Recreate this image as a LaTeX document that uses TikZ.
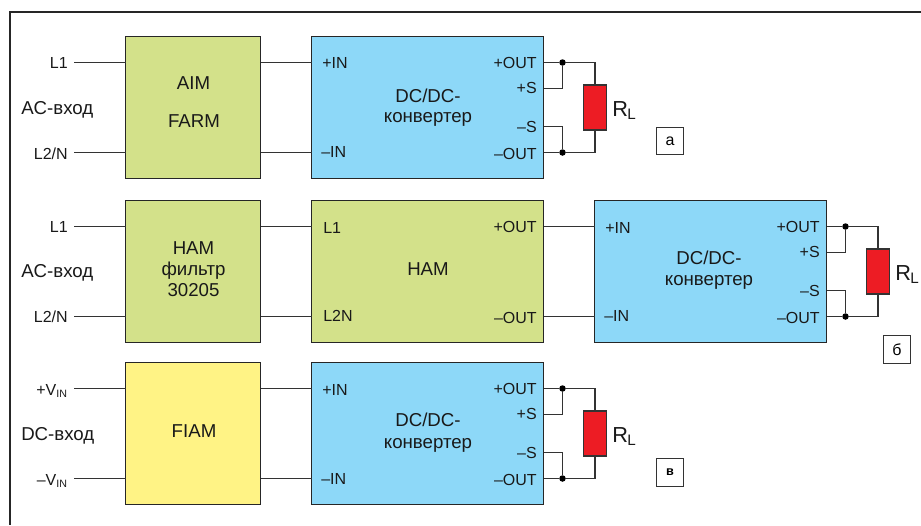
\documentclass[tikz,border=0pt]{standalone}
\usepackage{fontspec}
\setmainfont{Liberation Sans}
\definecolor{wirec}{HTML}{333333}
\definecolor{greenb}{HTML}{D3E18A}
\definecolor{blueb}{HTML}{8DD8F8}
\definecolor{yellowb}{HTML}{FFF385}
\definecolor{redb}{HTML}{ED1C24}
\tikzset{
  blockbox/.style={draw=black!85,line width=1.15pt,inner sep=0pt,outer sep=0pt,minimum height=142*0.75pt},
  modbox/.style={blockbox,minimum width=135*0.75pt},
  convbox/.style={blockbox,minimum width=232*0.75pt,fill=blueb},
  wire/.style={draw=wirec,line width=1.1pt},
  bigtext/.style={font=\fontsize{14}{15}\selectfont,inner sep=0pt,text=black!90,anchor=base,yshift=-0.6pt},
  sidetext/.style={font=\fontsize{14}{15}\selectfont,inner sep=0pt,text=black!90,yshift=-2.2pt,anchor=mid west},
  smalltext/.style={font=\fontsize{12}{13}\selectfont,inner sep=0pt,text=black!90,yshift=-1.9pt},
  rload/.style={draw=wirec,line width=1.1pt,fill=redb,inner sep=0pt,outer sep=0pt,minimum width=23*0.75pt,minimum height=45*0.75pt},
  dotj/.style={circle,fill=black,inner sep=0pt,minimum size=6.5*0.75pt},
  tagbox/.style={draw=wirec,line width=1pt,inner sep=0pt,minimum width=27.5*0.75pt,minimum height=27.5*0.75pt,font=\fontsize{12}{12}\selectfont}
}
% #1 prefix, #2 converter node, #3 right edge of converter, #4 +OUT y
\newcommand{\loadblock}[4]{%
  \pgfmathsetmacro{\xe}{#3}
  \pgfmathsetmacro{\ya}{#4}
  \pgfmathsetmacro{\yb}{#4+26}
  \pgfmathsetmacro{\yc}{#4+64}
  \pgfmathsetmacro{\yd}{#4+90}
  \pgfmathsetmacro{\xj}{#3+19}
  \pgfmathsetmacro{\xr}{#3+51.5}
  \pgfmathsetmacro{\xt}{#3-6.5}
  \node[smalltext,anchor=mid east] (#1po) at (\xt,\ya) {+OUT};
  \node[smalltext,anchor=mid east] (#1ps) at (\xt,\ya+25) {+S};
  \node[smalltext,anchor=mid east] (#1ms) at (\xt,\yc) {–S};
  \node[smalltext,anchor=mid east] (#1mo) at (\xt,\yd+1) {–OUT};
  \node[rload] (#1r) at (\xr,\ya+45) {};
  \node[font=\fontsize{16.3}{17}\selectfont,inner sep=0pt,anchor=west,text=black!90] (#1rl) at (\xr+17,\ya+48) {R\textsubscript{\kern-0.5pt L}};
  \node[dotj] (#1j1) at (\xj,\ya) {};
  \node[dotj] (#1j2) at (\xj,\yd) {};
  \coordinate (#1a) at (#2.east|-#1j1);
  \coordinate (#1b) at (\xe,\yb);
  \coordinate (#1c) at (\xe,\yc);
  \coordinate (#1d) at (#2.east|-#1j2);
  \draw[wire] (#1a) -- (#1j1) -- (#1r.north|-#1j1) -- (#1r.north);
  \draw[wire] (#1b) -| (#1j1);
  \draw[wire] (#1c) -| (#1j2);
  \draw[wire] (#1d) -- (#1j2) -- (#1r.south|-#1j2) -- (#1r.south);
}
\begin{document}
\begin{tikzpicture}[x=0.75pt,y=-0.75pt]
\useasboundingbox (0,0) rectangle (921,525);
\fill[white] (0,0) rectangle (921,525);
\coordinate (ftr) at (921,12);
\coordinate (ftl) at (10,12);
\coordinate (fbl) at (10,525);
\draw[draw=black!85,line width=0.9pt] (ftr) -- (ftl) -- (fbl);

% --- row a
\node[modbox,fill=greenb] (aim) at (193,107.5) {};
\node[convbox] (conva) at (427.5,107.5) {};
\node[bigtext] (aimt) at (193.5,88.5) {AIM};
\node[bigtext] (farmt) at (194,127) {FARM};
\node[bigtext] (dca) at (428,101.5) {DC/DC-};
\node[bigtext] (kona) at (428,122) {конвертер};
\node[sidetext] (aca) at (21,108) {AC-вход};
\node[smalltext,anchor=mid east] (l1a) at (68,62) {L1};
\node[smalltext,anchor=mid east] (l2a) at (68,153) {L2/N};
\coordinate (wl1a) at (74,62.5);
\coordinate (wl2a) at (74,152.5);
\node[smalltext,anchor=mid west] (ipa) at (322,62.5) {+IN};
\node[smalltext,anchor=mid west] (ima) at (321,151.5) {–IN};
\draw[wire] (wl1a) -- (aim.west|-wl1a);
\draw[wire] (wl2a) -- (aim.west|-wl2a);
\draw[wire] (aim.east|-wl1a) -- (conva.west|-wl1a);
\draw[wire] (aim.east|-wl2a) -- (conva.west|-wl2a);
\loadblock{a}{conva}{543.5}{62.5}
\node[tagbox] (taga) at (670,141) {а};

% --- row b
\node[modbox,fill=greenb] (hamf) at (193,271.5) {};
\node[modbox,fill=greenb,minimum width=232*0.75pt] (ham) at (427.5,271.5) {};
\node[convbox] (convb) at (710.5,271.5) {};
\node[bigtext] (hamt) at (193.5,253.5) {HAM};
\node[bigtext] (filt) at (193.5,274.5) {фильтр};
\node[bigtext] (numt) at (193.5,295.5) {30205};
\node[bigtext] (hamc) at (428,274.5) {HAM};
\node[bigtext] (dcb) at (709,263.5) {DC/DC-};
\node[bigtext] (konb) at (709,285) {конвертер};
\node[sidetext] (acb) at (21,271.5) {AC-вход};
\node[smalltext,anchor=mid east] (l1b) at (68,226) {L1};
\node[smalltext,anchor=mid east] (l2b) at (68,316) {L2/N};
\coordinate (wl1b) at (74,226.5);
\coordinate (wl2b) at (74,316.5);
\node[smalltext,anchor=mid west] (l1h) at (323,227) {L1};
\node[smalltext,anchor=mid west] (l2h) at (323,315) {L2N};
\node[smalltext,anchor=mid east] (oph) at (537,226) {+OUT};
\node[smalltext,anchor=mid east] (omh) at (537,317) {–OUT};
\node[smalltext,anchor=mid west] (ipb) at (605,227) {+IN};
\node[smalltext,anchor=mid west] (imb) at (604,315) {–IN};
\draw[wire] (wl1b) -- (hamf.west|-wl1b);
\draw[wire] (wl2b) -- (hamf.west|-wl2b);
\draw[wire] (hamf.east|-wl1b) -- (ham.west|-wl1b);
\draw[wire] (hamf.east|-wl2b) -- (ham.west|-wl2b);
\draw[wire] (ham.east|-wl1b) -- (convb.west|-wl1b);
\draw[wire] (ham.east|-wl2b) -- (convb.west|-wl2b);
\loadblock{b}{convb}{826.5}{226.5}
\node[tagbox] (tagb) at (897,349.5) {б};

% --- row c
\node[modbox,fill=yellowb] (fiam) at (193,433.5) {};
\node[convbox] (convc) at (427.5,433.5) {};
\node[bigtext] (fiamt) at (194,437) {FIAM};
\node[bigtext] (dcc) at (428,426) {DC/DC-};
\node[bigtext] (konc) at (428,447.5) {конвертер};
\node[sidetext] (dcin) at (21,434.5) {DC-вход};
\node[smalltext,anchor=mid east] (vp) at (68,389) {+V\textsubscript{IN}};
\node[smalltext,anchor=mid east] (vm) at (68,479) {–V\textsubscript{IN}};
\coordinate (wl1c) at (74,388.5);
\coordinate (wl2c) at (74,478.5);
\node[smalltext,anchor=mid west] (ipc) at (322,389) {+IN};
\node[smalltext,anchor=mid west] (imc) at (321,478) {–IN};
\draw[wire] (wl1c) -- (fiam.west|-wl1c);
\draw[wire] (wl2c) -- (fiam.west|-wl2c);
\draw[wire] (fiam.east|-wl1c) -- (convc.west|-wl1c);
\draw[wire] (fiam.east|-wl2c) -- (convc.west|-wl2c);
\loadblock{c}{convc}{543.5}{388.5}
\node[tagbox,font=\bfseries\fontsize{9.5}{11}\selectfont] (tagc) at (670,472.5) {в};
\end{tikzpicture}
\end{document}
